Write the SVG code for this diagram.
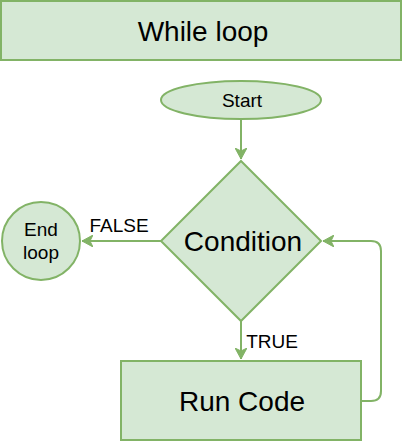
<svg xmlns="http://www.w3.org/2000/svg" width="404" height="444" viewBox="0 0 404 444">
<defs>
<style>
.n{fill:#d5e8d4;stroke:#82b366;stroke-width:2}
.e{fill:none;stroke:#82b366;stroke-width:2}
.t{font-family:"Liberation Sans",Arial,sans-serif;fill:#000;text-anchor:middle}
.b{font-size:28px}
.s{font-size:19px}
</style>
<marker id="a" markerWidth="12" markerHeight="12" viewBox="0 0 12 12" refX="11" refY="6" orient="auto" markerUnits="userSpaceOnUse">
<path d="M0,0 L11,6 L0,12 L3,6 Z" fill="#82b366" stroke="#82b366" stroke-width="1"/>
</marker>
</defs>
<g id="title"><rect class="n" x="1" y="1" width="400" height="59"/><text class="t b" x="203" y="41">While loop</text></g>
<g id="start"><ellipse class="n" cx="241" cy="100" rx="80" ry="19"/><text class="t s" x="242" y="107">Start</text></g>
<g id="condition"><polygon class="n" points="241,161 321,241 241,321 161,241"/><text class="t b" x="243" y="251">Condition</text></g>
<g id="endloop"><circle class="n" cx="41" cy="241" r="39"/><text class="t s" x="41" y="236">End</text><text class="t s" x="41" y="259">loop</text></g>
<g id="runcode"><rect class="n" x="121" y="361" width="240" height="79"/><text class="t b" x="242" y="411">Run Code</text></g>
<g id="connectors">
<path class="e" d="M241,120 L241,159" marker-end="url(#a)"/>
<path class="e" d="M161,241 L82,241" marker-end="url(#a)"/>
<path class="e" d="M241,321 L241,359" marker-end="url(#a)"/>
<path class="e" d="M361,401 L371,401 Q381,401 381,391 L381,251 Q381,241 371,241 L323,241" marker-end="url(#a)"/>
<text class="t s" x="119" y="232">FALSE</text>
<text class="t s" x="272" y="348">TRUE</text>
</g>
</svg>
